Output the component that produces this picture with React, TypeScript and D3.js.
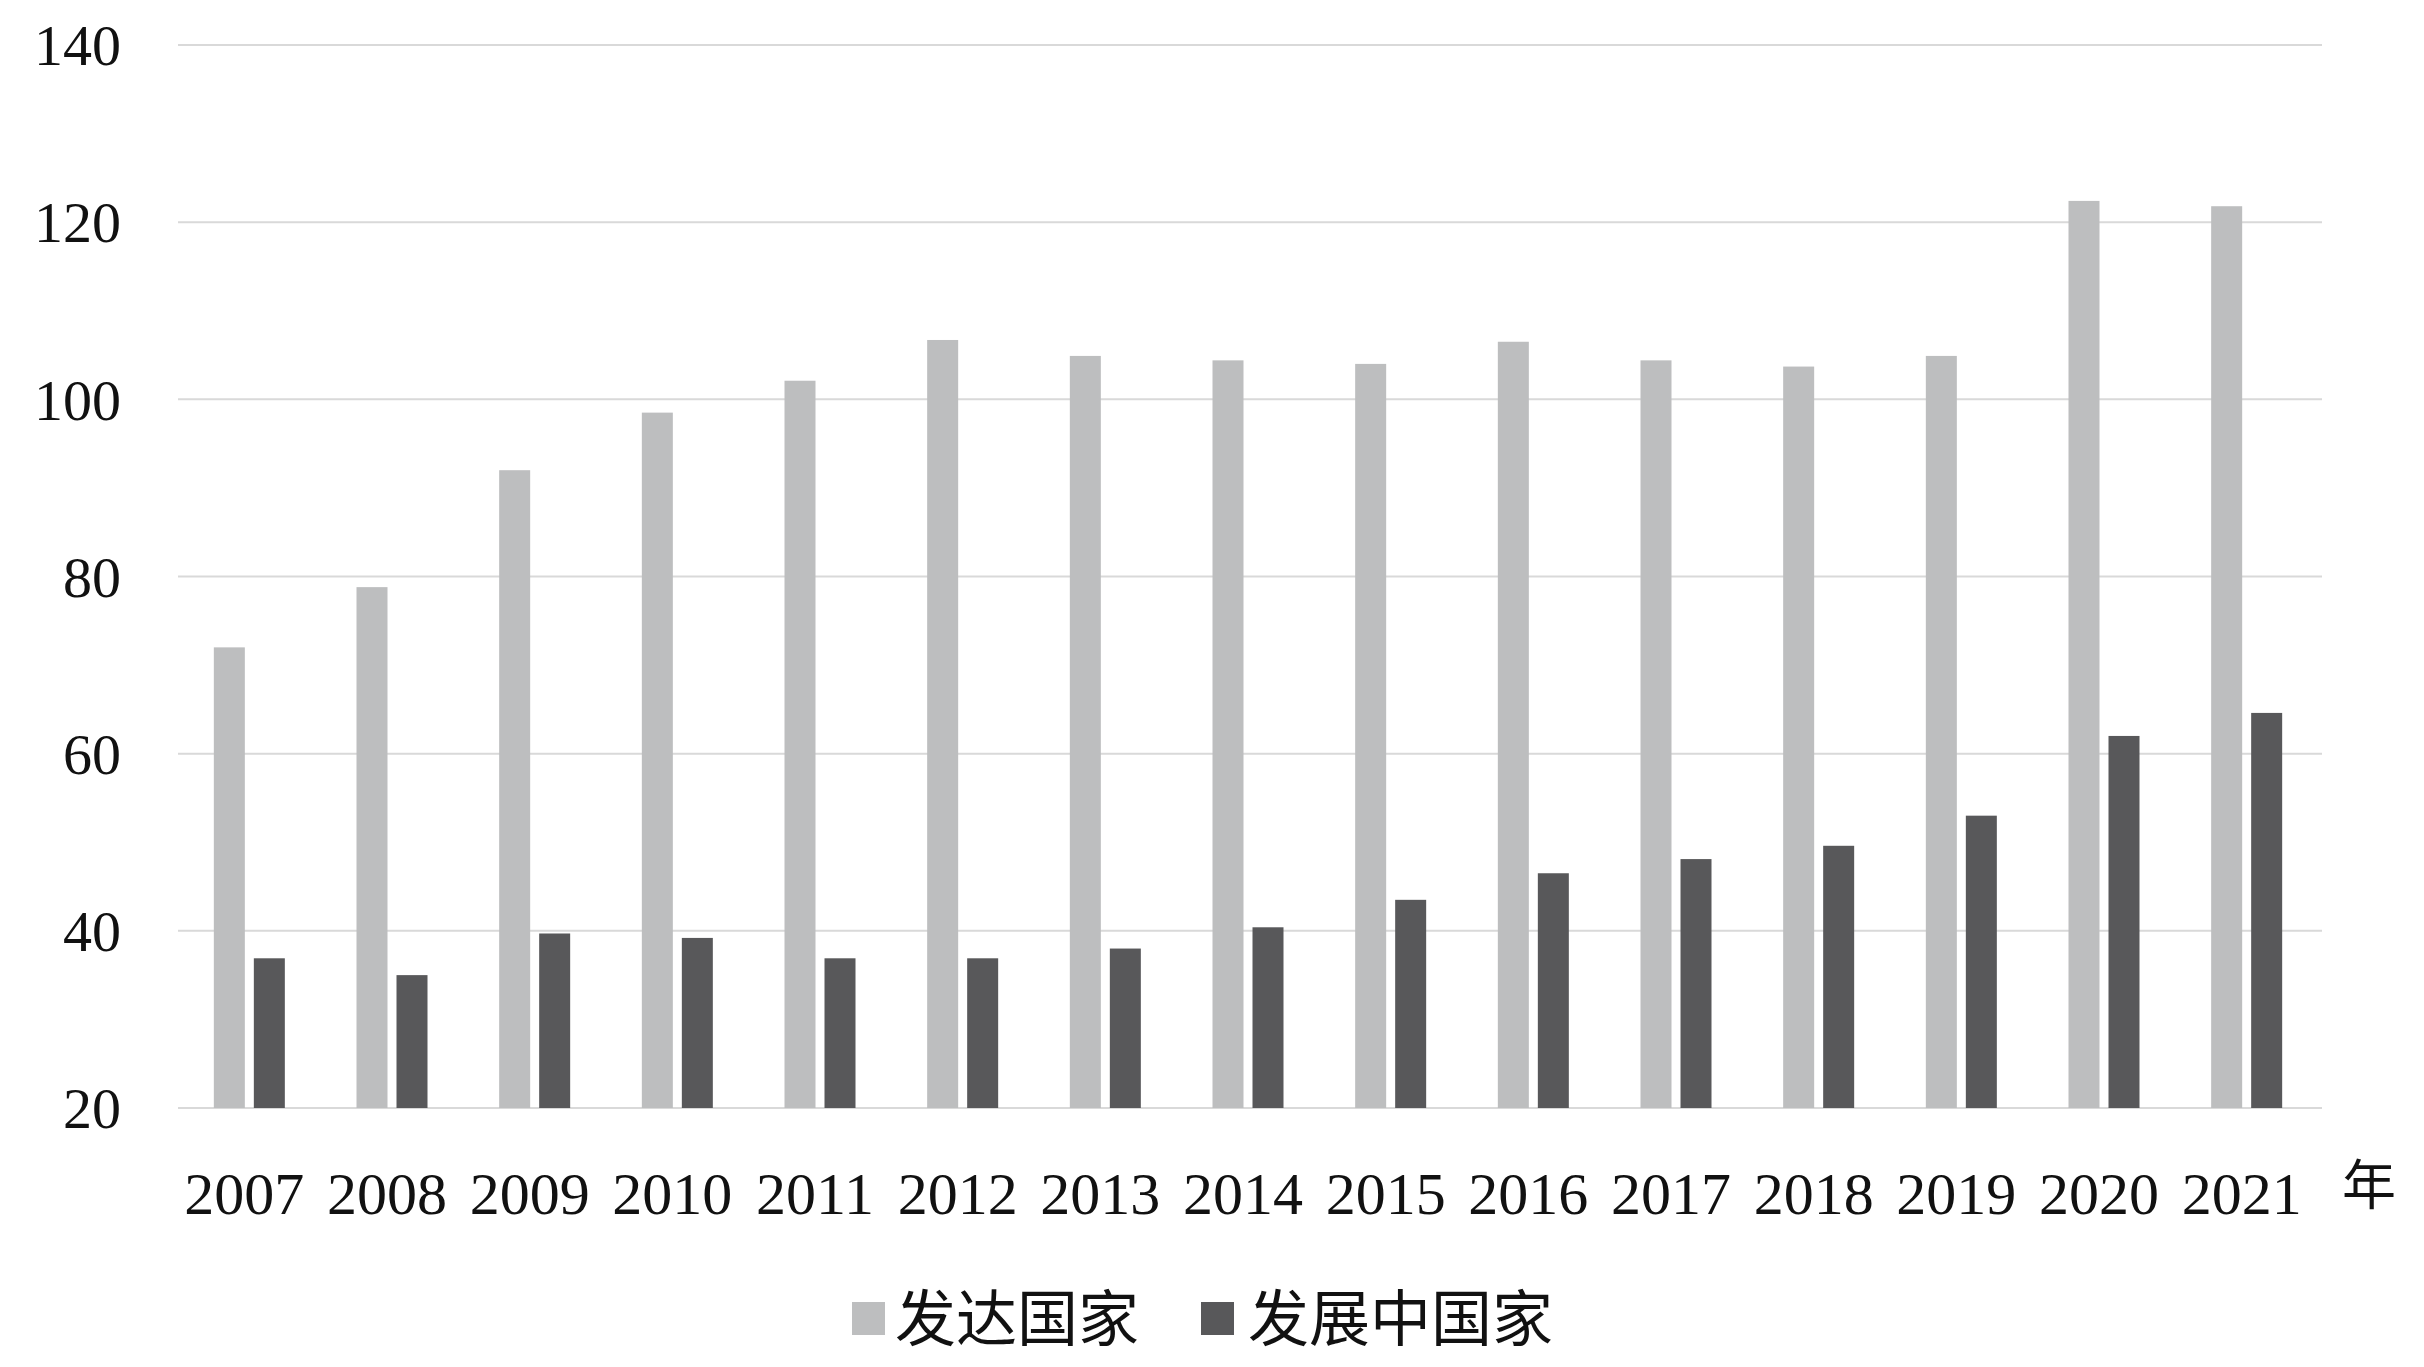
import React from "react";
import * as d3 from "d3";

const years = ["2007","2008","2009","2010","2011","2012","2013","2014","2015","2016","2017","2018","2019","2020","2021"];
const developed = [72.0, 78.8, 92.0, 98.5, 102.1, 106.7, 104.9, 104.4, 104.0, 106.5, 104.4, 103.7, 104.9, 122.4, 121.8];
const developing = [36.9, 35.0, 39.7, 39.2, 36.9, 36.9, 38.0, 40.4, 43.5, 46.5, 48.1, 49.6, 53.0, 62.0, 64.6];
const yTicks = [20, 40, 60, 80, 100, 120, 140];
const seriesNames = ["发达国家", "发展中国家"];
const seriesColors = ["#bdbebf", "#58585a"];

const W = 2424, H = 1367;
const left = 178, right = 2318, top = 45, bottom = 1108;

export default function App() {
  const x = d3.scaleBand<string>().domain(years).range([left, right]).paddingInner(0).paddingOuter(0);
  const y = d3.scaleLinear().domain([20, 140]).range([bottom, top]);
  const barW = 31, gap = 9;
  const serif = "'Liberation Serif', 'DejaVu Serif', serif";
  const cjk = "'Noto Sans CJK SC', sans-serif";
  const series = [developed, developing];
  return (
    <svg width={W} height={H} style={{ position: "absolute", left: 0, top: 0, background: "#fff" }}>
      <rect x={0} y={0} width={W} height={H} fill="#fff" />
      {yTicks.map((t) => (
        <g key={t}>
          <line x1={left} x2={2322} y1={y(t)} y2={y(t)} stroke="#d9d9d9" strokeWidth={2} />
          <text x={121} y={y(t)} dy="0.35em" textAnchor="end" fontFamily={serif} fontSize={58} fill="#111">{t}</text>
        </g>
      ))}
      {years.map((yr, i) => {
        const cx = (x(yr) as number) + x.bandwidth() / 2;
        return (
          <g key={yr}>
            {series.map((s, k) => {
              const bx = k === 0 ? cx - gap / 2 - barW : cx + gap / 2;
              return <rect key={k} x={bx} y={y(s[i])} width={barW} height={y(20) - y(s[i])} fill={seriesColors[k]} />;
            })}
            <text x={cx - 5} y={1214} textAnchor="middle" fontFamily={serif} fontSize={60} fill="#111">{yr}</text>
          </g>
        );
      })}
      <text x={2369} y={1205} textAnchor="middle" fontFamily={cjk} fontSize={54} fill="#111">年</text>
      <g>
        <rect x={852} y={1302} width={33} height={33} fill={seriesColors[0]} />
        <text x={895} y={1341} fontFamily={cjk} fontSize={61} fill="#111">{seriesNames[0]}</text>
        <rect x={1201} y={1302} width={33} height={33} fill={seriesColors[1]} />
        <text x={1248} y={1341} fontFamily={cjk} fontSize={61} fill="#111">{seriesNames[1]}</text>
      </g>
    </svg>
  );
}
